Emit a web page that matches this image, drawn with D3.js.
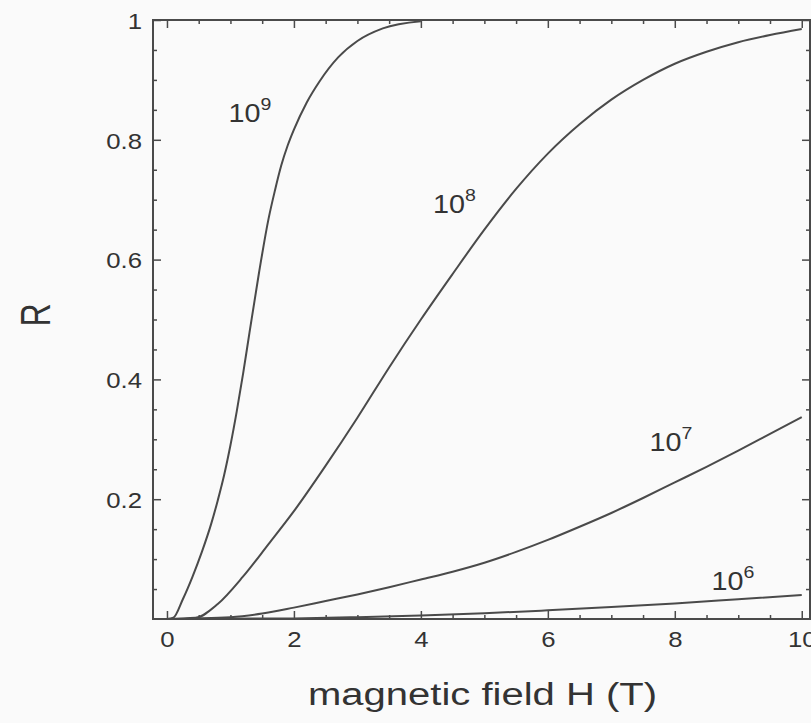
<!DOCTYPE html>
<html>
<head>
<meta charset="utf-8">
<script src="https://cdn.jsdelivr.net/npm/d3@7/dist/d3.min.js"></script>
<style>
  html, body { margin: 0; padding: 0; background: #fafafa; }
  svg { display: block; }
  text { font-family: "Liberation Sans", Arial, Helvetica, sans-serif; fill: #333; }
</style>
</head>
<body>
<script>
// ---- data ----
const xTicks = [0, 2, 4, 6, 8, 10];
const yTicks = [0.2, 0.4, 0.6, 0.8, 1];
const xTitle = "magnetic field H (T)";
const yTitle = "R";

const seriesNames = ["10^9", "10^8", "10^7", "10^6"];

const series1e9 = [[0,0],[0.1,0.002],[0.25,0.033],[0.4,0.07],[0.55,0.112],[0.7,0.16],[0.8,0.198],[0.9,0.24],[1.0,0.29],[1.1,0.347],[1.2,0.41],[1.3,0.478],[1.45,0.578],[1.6,0.668],[1.7,0.715],[1.8,0.757],[1.9,0.79],[2.0,0.817],[2.2,0.862],[2.4,0.897],[2.7,0.938],[3.0,0.965],[3.4,0.986],[4.0,0.998]];
const series1e8 = [[0,0],[0.45,0.002],[0.8,0.025],[1.2,0.071],[1.6,0.125],[2.0,0.18],[2.5,0.256],[3.0,0.336],[3.5,0.42],[4.0,0.5],[4.5,0.576],[5.0,0.65],[5.5,0.718],[6.0,0.777],[6.5,0.826],[7.0,0.867],[7.5,0.9],[8.0,0.927],[8.5,0.947],[9.0,0.963],[9.5,0.975],[10,0.985]];
const series1e7 = [[0,0],[1,0.003],[1.5,0.009],[2,0.019],[2.5,0.03],[3,0.041],[3.5,0.053],[4,0.066],[4.5,0.079],[5,0.094],[5.5,0.112],[6,0.132],[6.5,0.154],[7,0.177],[7.5,0.202],[8,0.228],[8.5,0.254],[9,0.281],[9.5,0.309],[10,0.337]];
const series1e6 = [[0,0],[2,0.001],[3,0.003],[4,0.006],[5,0.0095],[6,0.0145],[7,0.02],[8,0.026],[9,0.033],[10,0.04]];

// label anchor points in data units (H, R) and exponents
const labelExp = ["9", "8", "7", "6"];
const labelPos = [[0.97, 0.83], [4.19, 0.677], [7.6, 0.28], [8.58, 0.048]];

// ---- layout ----
const W = 811, H = 723;
const svg = d3.select("body").append("svg").attr("width", W).attr("height", H);

const x = d3.scaleLinear().domain([-0.22, 10.13]).range([153, 810]);
const y = d3.scaleLinear().domain([0, 1]).range([619, 20]);

const stroke = "#4a4a4a";

// frame
svg.append("rect")
  .attr("x", x(-0.22)).attr("y", y(1))
  .attr("width", x(10.13) - x(-0.22)).attr("height", y(0) - y(1))
  .attr("fill", "none").attr("stroke", stroke).attr("stroke-width", 2);

const xMinor = d3.range(0, 10.01, 0.5).filter(v => Math.abs(v/2 - Math.round(v/2)) > 1e-6);
const yMinor = d3.range(0.05, 1.0, 0.05).filter(v => Math.abs(v/0.2 - Math.round(v/0.2)) > 1e-6);

function drawAxis(axis, tx, ty) {
  const g = svg.append("g").attr("transform", `translate(${tx},${ty})`).call(axis);
  g.select(".domain").remove();
  g.selectAll("line").attr("stroke", stroke).attr("stroke-width", 1.5);
  return g;
}
// bottom
const gb = drawAxis(d3.axisBottom(x).tickValues(xTicks).tickSizeInner(-8).tickSizeOuter(0).tickFormat(d3.format("")), 0, y(0));
drawAxis(d3.axisBottom(x).tickValues(xMinor).tickSizeInner(-4).tickSizeOuter(0).tickFormat(""), 0, y(0));
// top
drawAxis(d3.axisTop(x).tickValues(xTicks).tickSizeInner(-8).tickSizeOuter(0).tickFormat(""), 0, y(1));
drawAxis(d3.axisTop(x).tickValues(xMinor).tickSizeInner(-4).tickSizeOuter(0).tickFormat(""), 0, y(1));
// left
const gl = drawAxis(d3.axisLeft(y).tickValues(yTicks).tickSizeInner(-8).tickSizeOuter(0).tickFormat(d => d === 1 ? "1" : d3.format(".1f")(d)), x(-0.22), 0);
drawAxis(d3.axisLeft(y).tickValues(yMinor).tickSizeInner(-4).tickSizeOuter(0).tickFormat(""), x(-0.22), 0);
// right
drawAxis(d3.axisRight(y).tickValues(yTicks).tickSizeInner(-8).tickSizeOuter(0).tickFormat(""), x(10.13), 0);
drawAxis(d3.axisRight(y).tickValues(yMinor).tickSizeInner(-4).tickSizeOuter(0).tickFormat(""), x(10.13), 0);

// tick label styling (slightly wide, as in the reference)
gb.selectAll("text")
  .attr("font-size", 23).attr("fill", "#333")
  .attr("x", 0).attr("y", 0).attr("dy", null)
  .attr("transform", "translate(0,28) scale(1.12,1)");
gl.selectAll("text")
  .attr("font-size", 23).attr("fill", "#333")
  .attr("x", 0).attr("dy", "0.36em")
  .attr("transform", "translate(-11,0) scale(1.12,1)");

// curves
const line = d3.line().x(d => x(d[0])).y(d => y(d[1])).curve(d3.curveMonotoneX);
const allSeries = [series1e9, series1e8, series1e7, series1e6];
svg.append("g").selectAll("path").data(allSeries).join("path")
  .attr("d", line)
  .attr("fill", "none").attr("stroke", stroke).attr("stroke-width", 2);

// curve labels
const lab = svg.append("g").selectAll("text").data(labelPos).join("text")
  .attr("transform", d => `translate(${x(d[0])},${y(d[1])}) scale(1.15,1)`)
  .attr("font-size", 25);
lab.append("tspan").text("10");
lab.append("tspan").attr("font-size", 17).attr("dy", -12).text((d, i) => labelExp[i]);

// axis titles
svg.append("text")
  .attr("x", 308).attr("y", 705)
  .attr("font-size", 31)
  .attr("textLength", 349).attr("lengthAdjust", "spacingAndGlyphs")
  .text(xTitle);

svg.append("text")
  .attr("transform", `translate(50,315) scale(1.35,1) rotate(-90)`)
  .attr("text-anchor", "middle")
  .attr("font-size", 32)
  .text(yTitle);
</script>
</body>
</html>
